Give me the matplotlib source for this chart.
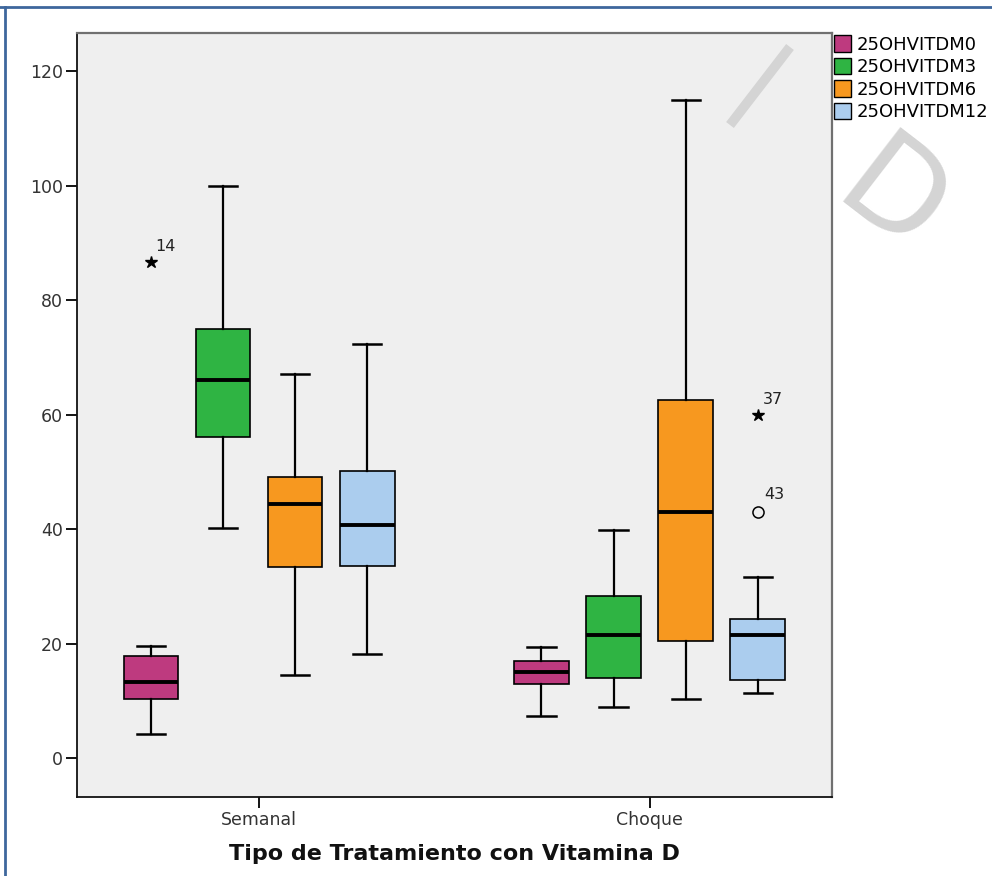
import numpy as np
import matplotlib
matplotlib.use("Agg")
import matplotlib.pyplot as plt
from matplotlib.lines import Line2D
from matplotlib.patches import Patch

# Data
groups = ["Semanal", "Choque"]
series = ["25OHVITDM0", "25OHVITDM3", "25OHVITDM6", "25OHVITDM12"]

# per group, one value per series
semanal_whislo = [4.3, 40.3, 14.6, 18.3]
semanal_q1 = [10.3, 56.2, 33.4, 33.6]
semanal_med = [13.4, 66.1, 44.5, 40.8]
semanal_q3 = [17.9, 75.0, 49.1, 50.2]
semanal_whishi = [19.7, 100.0, 67.2, 72.3]

choque_whislo = [7.4, 9.0, 10.3, 11.4]
choque_q1 = [13.0, 14.1, 20.5, 13.7]
choque_med = [15.1, 21.5, 43.0, 21.6]
choque_q3 = [17.0, 28.3, 62.6, 24.3]
choque_whishi = [19.5, 39.9, 115.0, 31.7]

# outliers: group index, series index, value, case label
extreme_group = [0, 1]
extreme_series = [0, 3]
extreme_value = [86.7, 60.0]
extreme_label = ["14", "37"]

outlier_group = [1]
outlier_series = [3]
outlier_value = [43.0]
outlier_label = ["43"]

colors = ["#be3a7f", "#2fb443", "#f7981f", "#abcdee"]

y_ticks = [0, 20, 40, 60, 80, 100, 120]

# figure
fig = plt.figure(figsize=(9.92, 8.76), dpi=100)
fig.patch.set_facecolor("white")
ax = fig.add_axes([77 / 992, 1 - 797 / 876, (832 - 77) / 992, (797 - 33) / 876])
ax.set_facecolor("#efefef")

spacing = 0.1846
offsets = (np.arange(len(series)) - 1.5) * spacing

stats_table = [
    (semanal_whislo, semanal_q1, semanal_med, semanal_q3, semanal_whishi),
    (choque_whislo, choque_q1, choque_med, choque_q3, choque_whishi),
]

for g, (lo, q1, med, q3, hi) in enumerate(stats_table):
    for s in range(len(series)):
        st = [dict(whislo=lo[s], q1=q1[s], med=med[s], q3=q3[s], whishi=hi[s], fliers=[])]
        ax.bxp(st, positions=[g + offsets[s]], widths=0.14, capwidths=0.072,
               patch_artist=True, showfliers=False, manage_ticks=False,
               boxprops=dict(facecolor=colors[s], edgecolor="black", linewidth=1.2),
               whiskerprops=dict(color="black", linewidth=1.6),
               capprops=dict(color="black", linewidth=1.8),
               medianprops=dict(color="black", linewidth=2.8, solid_capstyle="butt"))

# extremes (stars) and outliers (circles) with case numbers
for g, s, v, lab in zip(extreme_group, extreme_series, extreme_value, extreme_label):
    x = g + offsets[s]
    ax.plot([x], [v], marker="*", color="black", markersize=9, linestyle="none")
    ax.annotate(lab, (x, v), xytext=(3.5, 11), textcoords="offset points",
                ha="left", va="center", fontsize=11.5, color="#222222")
for g, s, v, lab in zip(outlier_group, outlier_series, outlier_value, outlier_label):
    x = g + offsets[s]
    ax.plot([x], [v], marker="o", markerfacecolor="none", markeredgecolor="black",
            markeredgewidth=1.1, markersize=8, linestyle="none")
    ax.annotate(lab, (x, v), xytext=(5, 13), textcoords="offset points",
                ha="left", va="center", fontsize=11.5, color="#222222")

ax.set_xlim(-0.466, 1.467)
ax.set_ylim(-6.75, 126.7)
ax.set_xticks(range(len(groups)))
ax.set_xticklabels(groups)
ax.set_yticks(y_ticks)
ax.tick_params(axis="both", length=8, width=1.3, color="black", labelsize=12.5,
               labelcolor="#333333", pad=2)

for side in ["left", "bottom"]:
    ax.spines[side].set_color("#111111")
    ax.spines[side].set_linewidth(1.3)
for side in ["top", "right"]:
    ax.spines[side].set_color("#707070")
    ax.spines[side].set_linewidth(1.6)

ax.set_xlabel("Tipo de Tratamiento con Vitamina D", fontsize=16, fontweight="bold",
              color="#111111", labelpad=11)

# legend
handles = [Patch(facecolor=c, edgecolor="black", linewidth=1.0) for c in colors]
fig.legend(handles, series, loc="upper left", bbox_to_anchor=(834 / 992, 1 - 35 / 876),
           frameon=False, fontsize=13, handlelength=0.95, handleheight=1.05,
           handletextpad=0.3, labelspacing=0.22, borderpad=0, borderaxespad=0)

# page frame (blue border) and watermark strokes
fig.add_artist(Line2D([0, 1], [1 - 7 / 876, 1 - 7 / 876], transform=fig.transFigure,
                      color="#3e679d", linewidth=2))
fig.add_artist(Line2D([5 / 992, 5 / 992], [0, 1 - 7 / 876], transform=fig.transFigure,
                      color="#3e679d", linewidth=2))
fig.add_artist(Line2D([730 / 992, 790 / 992], [1 - 125 / 876, 1 - 47 / 876],
                      transform=fig.transFigure, color="#d4d4d4", linewidth=7,
                      solid_capstyle="butt", zorder=10))
fig.text(890 / 992, 1 - 203 / 876, "D", fontsize=92, color="#d4d4d4", rotation=-37.6,
         rotation_mode="anchor", ha="center", va="center", zorder=10)

fig.savefig("out.png", dpi=100)
